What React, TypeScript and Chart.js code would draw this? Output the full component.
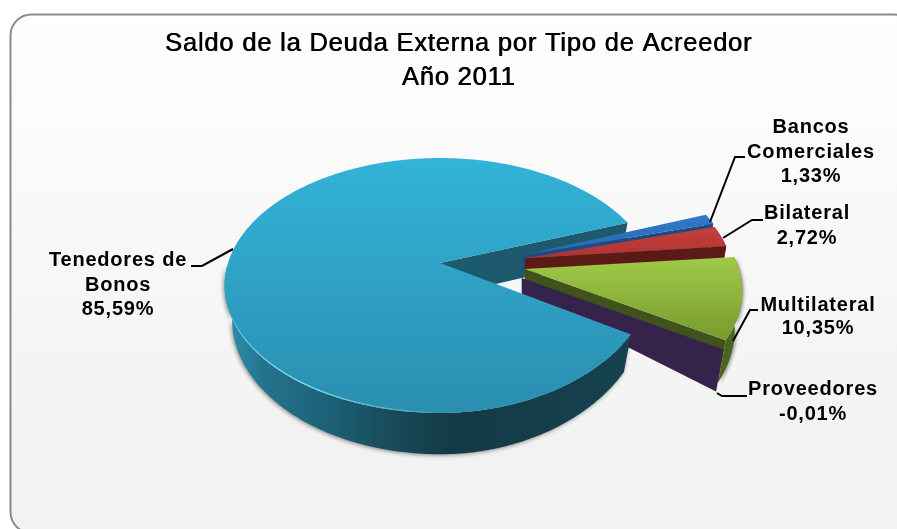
import React, { useEffect, useRef } from "react";
import { Chart, registerables } from "chart.js";

Chart.register(...registerables);

const CATEGORIES = ["Bancos Comerciales", "Bilateral", "Multilateral", "Proveedores", "Tenedores de Bonos"];
const VALUES = [1.33, 2.72, 10.35, -0.01, 85.59];
const TITLE_LINES = ["Saldo de la Deuda Externa por Tipo de Acreedor", "Año 2011"];

const EXPLODE = [87, 86.5, 87, 96, 0];
const SLICE_SCALE = [0.975, 0.97, 1.01, 1.015, 1];
const TOP_COLORS = [["#3079c8", "#2b68ad"], ["#c8403c", "#ad3330"], ["#a0ca48", "#789a2e"], ["#36234c", "#36234c"], ["#33b3d9", "#2a8eb0"]];
const RIM_COLORS = ["#1f4f8c", "#6a1d19", "#4c651e", "#36234c", "#143c48"];
const CUT_COLORS = ["#1e4a86", "#5c1a16", "#41531c", "#36234c", "#1d5a6d"];

const LABEL_LAYOUT = [
  { lines: ["Bancos", "Comerciales"], x: 811, y: [133, 158, 182], leader: [[710, 222], [735, 157], [745, 157]] },
  { lines: ["Bilateral"], x: 807, y: [219, 244], leader: [[723, 238], [752, 220], [763, 220]] },
  { lines: ["Multilateral"], x: 818, y: [311, 334], leader: [[733, 341], [750, 310], [758, 310]] },
  { lines: ["Proveedores"], x: 813, y: [395, 420], leader: [[717, 393], [722, 396], [747, 396]] },
  { lines: ["Tenedores de", "Bonos"], x: 118, y: [266, 291, 315], leader: [[233, 249], [202, 266], [191, 266]] },
];

// Perspective model of the disc
const CX = 440, CY = 263, RX = 212, RY = 123.5, P = 0.1765, DEPTH = 34, SHRINK = 0.035, APEX_DEPTH = 0.41, DROP = 0.3;
const NEAR_DEPTH = 1.12, FRONT_TRIM = 0.075;
const BIG = 4;

type Pt = [number, number];
type Frame = { ox: number; oy: number; i: number };
const scaleX = (u: number, v: number, f: Frame) =>
  f.i !== BIG ? SLICE_SCALE[f.i] : u > 0 && v > 0 ? 1 - FRONT_TRIM * v : 1;
const top = (th: number, r: number, f: Frame): Pt => {
  const u = r * Math.cos(th), v = r * Math.sin(th), w = 1 - P * v;
  return [f.ox + (RX * u * scaleX(u, v, f)) / w, f.oy + (RY * v) / w];
};
const base = (th: number, r: number, f: Frame): Pt => {
  const u = r * Math.cos(th), v = r * Math.sin(th), w = 1 - P * v;
  const d = DEPTH * (f.i !== BIG ? NEAR_DEPTH : 1);
  const apex = f.i === BIG ? 1 : APEX_DEPTH;
  return [f.ox + (RX * u * scaleX(u, v, f)) / (w + SHRINK), f.oy + (RY * v) / w + (d * (apex + (1 - apex) * r)) / w];
};
const trace = (ctx: CanvasRenderingContext2D, pts: Pt[]) => {
  ctx.beginPath();
  pts.forEach((p, i) => (i ? ctx.lineTo(p[0], p[1]) : ctx.moveTo(p[0], p[1])));
  ctx.closePath();
};
const frameOf = (a: any, i: number): Frame => {
  const mid = (a.startAngle + a.endAngle) / 2;
  return { ox: CX + EXPLODE[i] * Math.cos(mid), oy: CY + EXPLODE[i] * Math.sin(mid) * DROP, i };
};
const drawCut = (ctx: CanvasRenderingContext2D, a: any, i: number) => {
  const f = frameOf(a, i), e = a.endAngle;
  ctx.fillStyle = CUT_COLORS[i];
  trace(ctx, [top(e, 0, f), top(e, 1, f), base(e, 1, f), base(e, 0, f)]);
  ctx.fill();
};
const drawRim = (ctx: CanvasRenderingContext2D, a: any, i: number) => {
  const f = frameOf(a, i), s = a.startAngle, e = a.endAngle;
  const steps = Math.max(2, Math.ceil((e - s) / 0.01));
  const frontT: Pt[] = [], frontB: Pt[] = [];
  for (let k = 0; k <= steps; k++) {
    const t = s + ((e - s) * k) / steps;
    if (Math.sin(t) > 0.02 || i !== BIG) {
      frontT.push(top(t, 1, f));
      frontB.push(base(t, 1, f));
    }
  }
  ctx.save();
  if (i === BIG || i === 2) {
    ctx.shadowColor = i === BIG ? "rgba(0,0,0,0.45)" : "rgba(0,0,0,0.3)";
    ctx.shadowBlur = i === BIG ? 4 : 3;
    ctx.shadowOffsetY = 1;
    ctx.shadowOffsetX = i === BIG ? -1 : 2;
  }
  if (i === BIG) {
    const g = ctx.createLinearGradient(232, 0, 650, 0);
    g.addColorStop(0, "#2b8cab");
    g.addColorStop(0.075, "#22748c");
    g.addColorStop(0.234, "#1c6075");
    g.addColorStop(0.4, "#174857");
    g.addColorStop(0.52, "#143a46");
    g.addColorStop(1, "#164250");
    ctx.fillStyle = g;
  } else ctx.fillStyle = RIM_COLORS[i];
  trace(ctx, [...frontT, ...frontB.slice().reverse()]);
  ctx.fill();
  ctx.restore();
};
const drawTop = (ctx: CanvasRenderingContext2D, a: any, i: number) => {
  const f = frameOf(a, i), s = a.startAngle, e = a.endAngle;
  const steps = Math.max(2, Math.ceil((e - s) / 0.01));
  const rim: Pt[] = [], angles: number[] = [];
  for (let k = 0; k <= steps; k++) {
    const t = s + ((e - s) * k) / steps;
    angles.push(t);
    rim.push(top(t, 1, f));
  }
  const ys = rim.map((p) => p[1]);
  const g = ctx.createLinearGradient(0, Math.min(f.oy, ...ys), 0, Math.max(f.oy, ...ys));
  g.addColorStop(0, TOP_COLORS[i][0]);
  g.addColorStop(1, TOP_COLORS[i][1]);
  ctx.fillStyle = g;
  trace(ctx, [[f.ox, f.oy], ...rim]);
  ctx.fill();
  // light rim along the front left of the large slice
  if (i === BIG) {
    ctx.lineCap = "round";
    for (let k = 0; k < steps; k++) {
      const deg = (angles[k] * 180) / Math.PI;
      const glow = Math.max(0, 1 - Math.abs(deg - 125) / 38);
      if (glow <= 0) continue;
      ctx.strokeStyle = `rgba(135,228,247,${0.9 * glow})`;
      ctx.lineWidth = 1.2;
      ctx.beginPath();
      ctx.moveTo(rim[k][0], rim[k][1] - 0.7);
      ctx.lineTo(rim[k + 1][0], rim[k + 1][1] - 0.7);
      ctx.stroke();
    }
  }
};

const pie3d = {
  id: "pie3d",
  beforeDraw(chart: any) {
    const ctx = chart.ctx as CanvasRenderingContext2D;
    ctx.save();
    ctx.fillStyle = "#fff";
    ctx.fillRect(0, 0, 897, 529);
    ctx.beginPath();
    ctx.roundRect(10.5, 14.5, 904, 518.5, 21);
    const g = ctx.createLinearGradient(0, 14, 0, 440);
    g.addColorStop(0, "#ffffff");
    g.addColorStop(1, "#f2f2f2");
    ctx.fillStyle = g;
    ctx.fill();
    ctx.lineWidth = 2;
    ctx.strokeStyle = "#8a8a8a";
    ctx.stroke();
    ctx.restore();
    // the title is set slightly wider and heavier than the plain face
    (ctx as any).letterSpacing = "0.8px";
    ctx.shadowColor = "#000";
    ctx.shadowBlur = 0;
    ctx.shadowOffsetX = 0.7;
    ctx.shadowOffsetY = 0;
  },
  beforeDatasetsDraw(chart: any) {
    const ctx = chart.ctx as CanvasRenderingContext2D;
    ctx.shadowColor = "transparent";
    ctx.shadowOffsetX = 0;
    (ctx as any).letterSpacing = "0px";
    const arcs = chart.getDatasetMeta(0).data;
    ctx.save();
    // back wall of the large slice, then the pulled-out slices, then its body over them
    drawCut(ctx, arcs[BIG], BIG);
    for (const i of [0, 1, 2, 3]) {
      drawRim(ctx, arcs[i], i);
      drawCut(ctx, arcs[i], i);
      drawTop(ctx, arcs[i], i);
    }
    drawRim(ctx, arcs[BIG], BIG);
    drawTop(ctx, arcs[BIG], BIG);
    ctx.restore();
    return false;
  },
  afterDraw(chart: any) {
    const ctx = chart.ctx as CanvasRenderingContext2D;
    ctx.save();
    (ctx as any).letterSpacing = "0.8px";
    ctx.font = 'bold 20px "Liberation Sans"';
    ctx.textAlign = "center";
    ctx.textBaseline = "alphabetic";
    ctx.fillStyle = "#000";
    LABEL_LAYOUT.forEach((l, i) => {
      const text = [...l.lines, VALUES[i].toFixed(2).replace(".", ",") + "%"];
      text.forEach((t, j) => ctx.fillText(t, l.x, l.y[j]));
      ctx.strokeStyle = "#000";
      ctx.lineWidth = 2;
      ctx.beginPath();
      l.leader.forEach((p, k) => (k ? ctx.lineTo(p[0], p[1]) : ctx.moveTo(p[0], p[1])));
      ctx.stroke();
    });
    ctx.restore();
    (ctx as any).letterSpacing = "0px";
  },
};

export default function App() {
  const ref = useRef<HTMLCanvasElement>(null);
  useEffect(() => {
    const chart = new Chart(ref.current!, {
      type: "pie",
      data: {
        labels: CATEGORIES,
        datasets: [{ data: VALUES, offset: EXPLODE, backgroundColor: TOP_COLORS.map((c) => c[0]), borderWidth: 0 }],
      },
      options: {
        animation: false,
        responsive: false,
        rotation: 69.8,
        layout: { padding: { left: 20 } },
        plugins: {
          legend: { display: false },
          tooltip: { enabled: false },
          title: {
            display: true,
            fullSize: false,
            text: TITLE_LINES,
            color: "#000",
            padding: { top: 27, bottom: 0 },
            font: { family: '"Liberation Sans"', size: 25.5, weight: "normal", lineHeight: 1.32 },
          },
        },
      },
      plugins: [pie3d],
    } as any);
    return () => chart.destroy();
  }, []);
  return (
    <div style={{ position: "fixed", left: 0, top: 0, width: 897, height: 529, overflow: "hidden" }}>
      <canvas ref={ref} width={897} height={529} style={{ display: "block", width: 897, height: 529, filter: "blur(0.4px)" }} />
    </div>
  );
}
